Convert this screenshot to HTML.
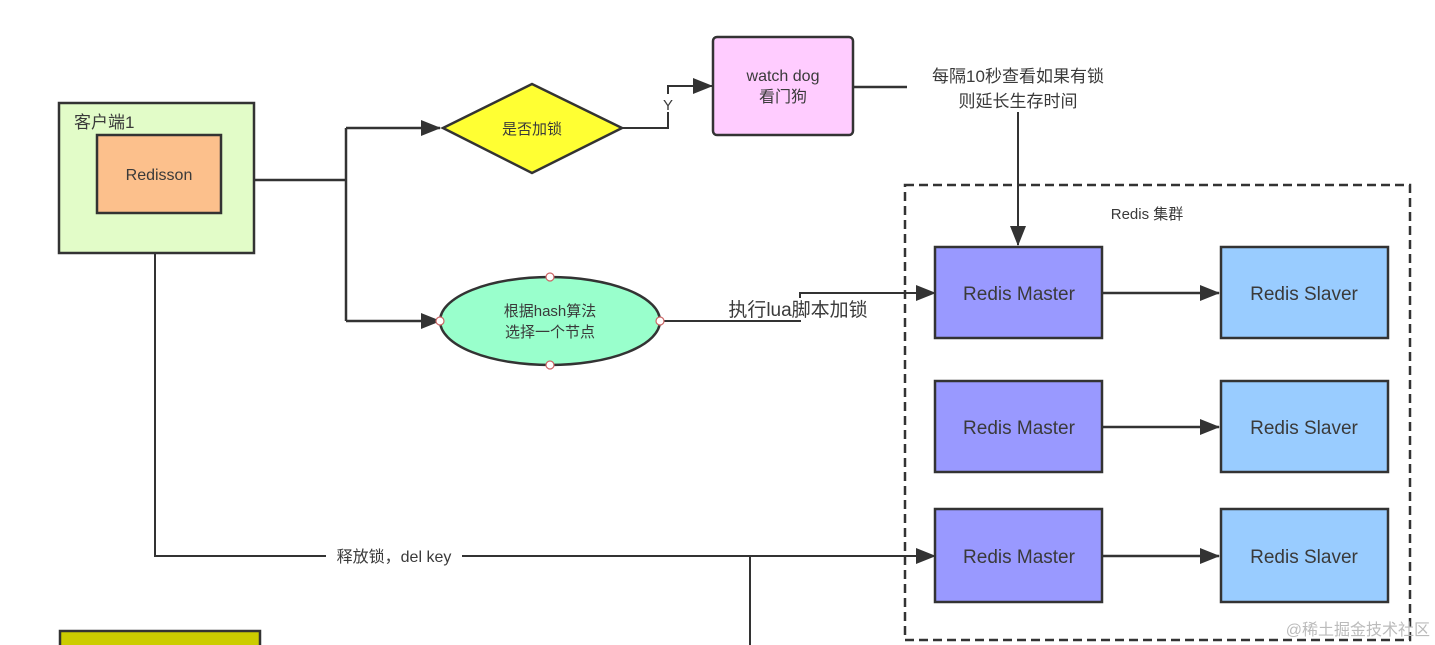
<!DOCTYPE html><html><head><meta charset="utf-8"><style>body{margin:0;background:#fff}svg{display:block}text{font-family:"Liberation Sans","Noto Sans CJK SC",sans-serif;fill:#3a3a3a}</style></head><body>
<svg width="1435" height="645" viewBox="0 0 1435 645">
<defs><marker id="b" markerWidth="20" markerHeight="16" refX="19" refY="8" orient="auto" markerUnits="userSpaceOnUse"><path d="M0,0 L20,8 L0,16 z" fill="#333"/></marker></defs>
<g stroke="#333" stroke-width="2.5" fill="none">
<rect x="59" y="103" width="195" height="150" fill="#e2fcc8"/>
<rect x="97" y="135" width="124" height="78" fill="#fcc08c"/>
<polyline points="254,180 346,180"/>
<polyline points="346,128 346,321"/>
<line x1="346" y1="128" x2="440" y2="128" marker-end="url(#b)"/>
<line x1="346" y1="321" x2="440" y2="321" marker-end="url(#b)"/>
<polygon points="443,128 532,84 622,128 532,173" fill="#ffff33"/>
<polyline points="622,128 668,128 668,112" stroke-width="2"/>
<polyline points="668,94 668,86 712,86" stroke-width="2" marker-end="url(#b)"/>
<rect x="713" y="37" width="140" height="98" rx="4" fill="#ffccff"/>
<line x1="853" y1="87" x2="907" y2="87"/>
<line x1="1018" y1="112" x2="1018" y2="245" stroke-width="2" marker-end="url(#b)"/>
<ellipse cx="550" cy="321" rx="110" ry="44" fill="#99ffcc"/>
<polyline points="660,321 800,321 800,293 935,293" stroke-width="2" marker-end="url(#b)"/>
<rect x="905" y="185" width="505" height="455" stroke-dasharray="9,5"/>
<g fill="#9999ff"><rect x="935" y="247" width="167" height="91"/><rect x="935" y="381" width="167" height="91"/><rect x="935" y="509" width="167" height="93"/></g>
<g fill="#99ccff"><rect x="1221" y="247" width="167" height="91"/><rect x="1221" y="381" width="167" height="91"/><rect x="1221" y="509" width="167" height="93"/></g>
<line x1="1102" y1="293" x2="1219" y2="293" marker-end="url(#b)"/>
<line x1="1102" y1="427" x2="1219" y2="427" marker-end="url(#b)"/>
<line x1="1102" y1="556" x2="1219" y2="556" marker-end="url(#b)"/>
<polyline points="155,253 155,556 935,556" stroke-width="2" marker-end="url(#b)"/>
<line x1="750" y1="556" x2="750" y2="645" stroke-width="2"/>
<rect x="60" y="631" width="200" height="20" fill="#cccc00"/>
</g>
<g fill="#fff" stroke="#c66" stroke-width="1.2"><circle cx="550" cy="277" r="4"/><circle cx="550" cy="365" r="4"/><circle cx="440" cy="321" r="4"/><circle cx="660" cy="321" r="4"/></g>
<rect x="326" y="546" width="136" height="20" fill="#fff"/>
<rect x="718" y="298" width="162" height="22" fill="#fff"/>
<text x="74" y="128" font-size="17">客户端1</text>
<text x="159" y="180" font-size="16" text-anchor="middle">Redisson</text>
<text x="532" y="134" font-size="15" text-anchor="middle">是否加锁</text>
<text x="668" y="110" font-size="15" text-anchor="middle">Y</text>
<text x="783" y="81" font-size="16" text-anchor="middle">watch dog</text>
<text x="783" y="102" font-size="16" text-anchor="middle">看门狗</text>
<text x="1018" y="82" font-size="17" text-anchor="middle">每隔10秒查看如果有锁</text>
<text x="1018" y="107" font-size="17" text-anchor="middle">则延长生存时间</text>
<text x="550" y="316" font-size="15" text-anchor="middle">根据hash算法</text>
<text x="550" y="337" font-size="15" text-anchor="middle">选择一个节点</text>
<text x="798" y="316" font-size="19" text-anchor="middle">执行lua脚本加锁</text>
<text x="1147" y="219" font-size="15" text-anchor="middle">Redis 集群</text>
<g font-size="19" text-anchor="middle"><text x="1019" y="300">Redis Master</text><text x="1019" y="434">Redis Master</text><text x="1019" y="563">Redis Master</text><text x="1304" y="300">Redis Slaver</text><text x="1304" y="434">Redis Slaver</text><text x="1304" y="563">Redis Slaver</text></g>
<text x="394" y="562" font-size="16" text-anchor="middle">释放锁，del key</text>
<text x="1430" y="635" font-size="16" text-anchor="end" style="fill:#bbb">@稀土掘金技术社区</text>
</svg></body></html>
